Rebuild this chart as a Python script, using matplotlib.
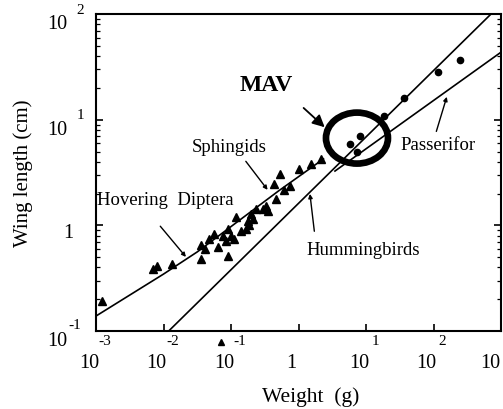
import numpy as np
import matplotlib
matplotlib.use("Agg")
import matplotlib.pyplot as plt
from matplotlib.patches import Ellipse
from matplotlib.transforms import ScaledTranslation

plt.rcParams['font.family'] = ['Liberation Serif', 'DejaVu Serif']

# all values are log10: weight in g, wing length in cm
diptera_line_x = [-3.0, -2.0, -1.5, -0.3, 0.37]
diptera_line_y = [-0.857, -0.46, -0.25, 0.325, 0.63]
humming_line_x = [-1.925, 2.85]
humming_line_y = [-1.0, 2.0]
passer_line_x = [0.54, 3.0]
passer_line_y = [0.515, 1.64]

insects_x = [-2.91, -2.15, -2.10, -1.87, -1.45, -1.45, -1.39, -1.33, -1.25, -1.19,
             -1.12, -1.07, -1.04, -1.04, -1.00, -0.955, -0.925, -0.85, -0.78, -0.75,
             -0.73, -0.67, -0.70, -0.63, -0.52, -0.48, -0.45, -0.33, -0.36, -0.28,
             -0.22, -0.13, 0.0, 0.19, 0.34]
insects_y = [-0.715, -0.41, -0.38, -0.365, -0.185, -0.318, -0.22, -0.13, -0.08, -0.205,
             -0.10, -0.15, -0.03, -0.29, -0.10, -0.13, 0.08, -0.05, -0.03, 0.04,
             0.0, 0.06, 0.11, 0.155, 0.155, 0.18, 0.14, 0.25, 0.39, 0.49,
             0.34, 0.37, 0.53, 0.58, 0.63]
stray_x = [-1.15]
stray_y = [-1.10]

birds_x = [0.76, 0.87, 0.91, 1.27, 1.567, 2.07, 2.39]
birds_y = [0.77, 0.70, 0.85, 1.04, 1.205, 1.45, 1.565]

x_exps = [-3, -2, -1, 0, 1, 2, 3]
y_exps = [-1, 0, 1, 2]
mav_center = (0.866, 0.827)

def p(v):
    return np.power(10.0, v)

fig = plt.figure(figsize=(5.03, 4.10), dpi=100)
ax = fig.add_axes([0.191, 0.190, 0.805, 0.773])
ax.set_xscale('log')
ax.set_yscale('log')
ax.set_xlim(1e-3, 1e3)
ax.set_ylim(1e-1, 1e2)

ax.plot(p(diptera_line_x), p(diptera_line_y), color='black', lw=1.2)
ax.plot(p(humming_line_x), p(humming_line_y), color='black', lw=1.2)
ax.plot(p(passer_line_x), p(passer_line_y), color='black', lw=1.2)
ax.plot(p(insects_x), p(insects_y), '^', color='black', ms=5.5)
ax.plot(p(stray_x), p(stray_y), '^', color='black', ms=5, clip_on=False)
ax.plot(p(birds_x), p(birds_y), 'o', color='black', ms=4.5)

# MAV ring
trans = fig.dpi_scale_trans + ScaledTranslation(p(mav_center[0]), p(mav_center[1]), ax.transData)
ax.add_patch(Ellipse((0, 0), 0.62, 0.51, transform=trans, fill=False, lw=4.8, color='black'))

# annotations
lab = 13.5
ax.text(p(-0.478), p(1.338), 'MAV', fontsize=17, fontweight='bold', ha='center', va='center')
ax.annotate('', xy=(p(0.418), p(0.912)), xytext=(p(0.045), p(1.13)),
            arrowprops=dict(arrowstyle='-|>', color='black', lw=1.3, mutation_scale=18))
ax.text(p(-1.03), p(0.751), 'Sphingids', fontsize=lab, ha='center', va='center')
ax.annotate('', xy=(p(-0.433), p(0.316)), xytext=(p(-0.806), p(0.628)),
            arrowprops=dict(arrowstyle='-|>', color='black', lw=1.0, mutation_scale=6))
ax.text(p(-2.99), p(0.25), 'Hovering  Diptera', fontsize=lab, ha='left', va='center')
ax.annotate('', xy=(p(-1.642), p(-0.318)), xytext=(p(-2.075), p(0.013)),
            arrowprops=dict(arrowstyle='-|>', color='black', lw=1.0, mutation_scale=6))
ax.text(p(0.119), p(-0.223), 'Hummingbirds', fontsize=lab, ha='left', va='center')
ax.annotate('', xy=(p(0.164), p(0.325)), xytext=(p(0.239), p(-0.081)),
            arrowprops=dict(arrowstyle='-|>', color='black', lw=1.0, mutation_scale=6))
ax.text(p(1.507), p(0.77), 'Passerifor', fontsize=lab, ha='left', va='center')
ax.annotate('', xy=(p(2.209), p(1.243)), xytext=(p(2.03), p(0.865)),
            arrowprops=dict(arrowstyle='-|>', color='black', lw=1.0, mutation_scale=6))

# ticks
ax.set_xticks(p(x_exps))
ax.xaxis.set_minor_locator(matplotlib.ticker.NullLocator())
ax.set_yticks(p(y_exps))
ax.tick_params(which='both', direction='in', top=False, right=True,
               labelbottom=False, labelleft=False)
ax.tick_params(which='major', length=5, width=1.2)
ax.tick_params(which='minor', length=3, width=0.9)
for s in ax.spines.values():
    s.set_linewidth(1.5)

for e in x_exps:
    base = '1' if e == 0 else '10'
    dx = -7.5 if e == 3 else -5
    ax.annotate(base, xy=(p(e), 0), xycoords=('data', 'axes fraction'), xytext=(dx, -16),
                textcoords='offset points', ha='center', va='top', fontsize=14.5)
    # last exponent falls outside the page in the original
    if e != 0 and e != 3:
        ax.annotate(str(e), xy=(p(e), 0), xycoords=('data', 'axes fraction'), xytext=(6.5, -7),
                    textcoords='offset points', ha='center', va='center', fontsize=11)

for e in y_exps:
    if e == 0:
        ax.annotate('1', xy=(0, p(e)), xycoords=('axes fraction', 'data'), xytext=(-20, -5),
                    textcoords='offset points', ha='center', va='center', fontsize=14.5)
        continue
    ax.annotate('10', xy=(0, p(e)), xycoords=('axes fraction', 'data'), xytext=(-21, -7),
                textcoords='offset points', ha='right', va='center', fontsize=14.5)
    ax.annotate(str(e), xy=(0, p(e)), xycoords=('axes fraction', 'data'),
                xytext=(-15 if e < 0 else -11.5, 5 if e < 0 else 3.5),
                textcoords='offset points', ha='center', va='center', fontsize=11)

ax.set_xlabel('Weight  (g)', fontsize=15.5)
ax.xaxis.set_label_coords(0.531, -0.205)
ax.xaxis.label.set_va('center')
ax.set_ylabel('Wing length (cm)', fontsize=15)
ax.yaxis.set_label_coords(-0.18, 0.5)
ax.yaxis.label.set_va('center')

fig.savefig('out.png', dpi=100)
